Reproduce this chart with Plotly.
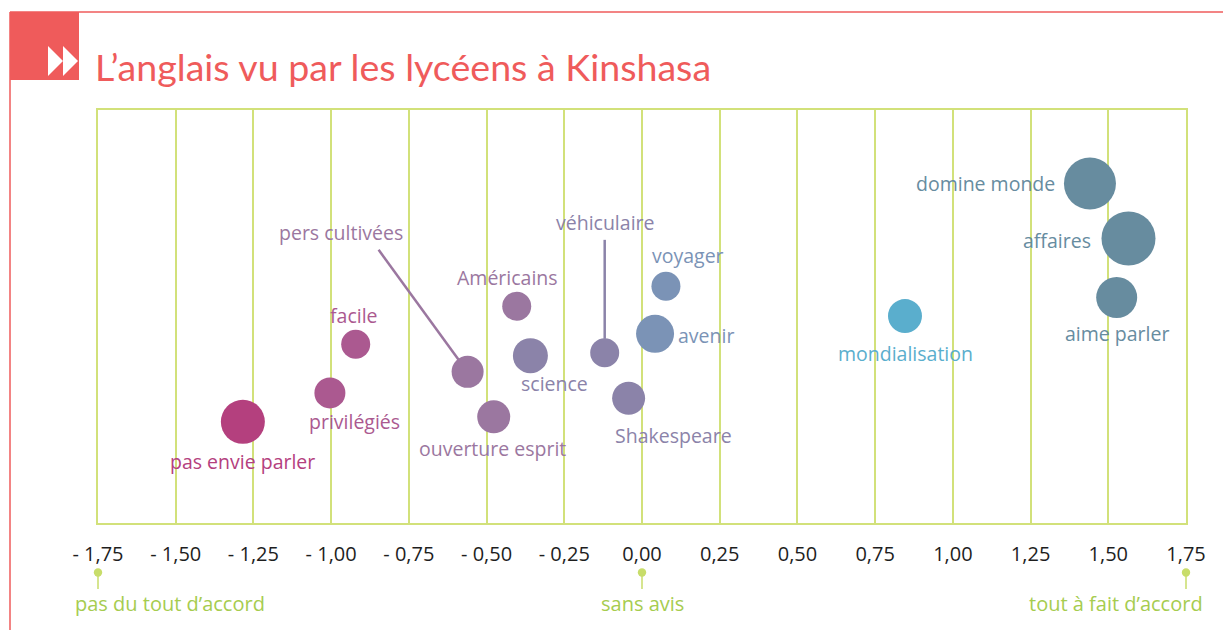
import plotly.graph_objects as go

# ---------------- data ----------------
labels = ["pas envie parler", "privilégiés", "facile", "pers cultivées", "ouverture esprit",
          "Américains", "science", "véhiculaire", "Shakespeare", "voyager", "avenir",
          "mondialisation", "domine monde", "affaires", "aime parler"]
x_score = [-1.284, -1.004, -0.921, -0.561, -0.477, -0.403, -0.359, -0.120, -0.043,
           0.077, 0.042, 0.846, 1.441, 1.565, 1.527]
y_pos = [24.5, 31.5, 43.3, 36.6, 25.7, 52.5, 40.5, 41.2, 30.2, 57.3, 45.8, 50.1, 82.2, 68.9, 54.6]
bubble_size = [44, 31, 29, 32, 33, 29, 35, 29, 33, 29, 38, 34, 52, 54, 41]

tick_vals = [-1.75, -1.5, -1.25, -1.0, -0.75, -0.5, -0.25, 0.0, 0.25, 0.5, 0.75, 1.0, 1.25, 1.5, 1.75]
tick_text = ["- 1,75", "- 1,50", "- 1,25", "- 1,00", "- 0,75", "- 0,50", "- 0,25", "0,00",
             "0,25", "0,50", "0,75", "1,00", "1,25", "1,50", "1,75"]

scale_labels = ["pas du tout d’accord", "sans avis", "tout à fait d’accord"]
scale_vals = [-1.75, 0.0, 1.75]
title_text = "L’anglais vu par les lycéens à Kinshasa"

# ---------------- styles ----------------
colors = ["#b4407e", "#ab5990", "#ab5990", "#9b77a0", "#9b77a0", "#9b77a0", "#8b83a9",
          "#8b83a9", "#8b83a9", "#7b93b6", "#7b93b6", "#5aaecd", "#678c9f", "#678c9f", "#678c9f"]
# label offsets in pixels (dx right, dy down) relative to bubble centre
label_off = [(0, 40), (25, 29), (-2, -29), (-127, -139), (-1, 32), (-9, -29), (24, 28),
             (0, -130), (45, 37), (22, -31), (51, 2), (1, 37), (-104, 0), (-71, 2), (0, 36)]
# leader lines: index -> (x0,y0_up,x1,y1_up) pixel offsets from bubble centre
leaders = {3: (-89, 122, -9, 12), 7: (0, 113, 0, 14)}

W, H = 1223, 630
L, R, T, B = 98, 1186, 110, 523
X_RANGE = [tick_vals[0], tick_vals[-1]]
RED = "#ef5b5b"
GREEN = "#d2e17a"
GREEN_TXT = "#a6cc4f"
FONT = "Open Sans"


def px(xp):
    return (xp - L) / (R - L)


def py(yp):
    return (B - yp) / (B - T)


def data_to_paper_x(v):
    return (v - X_RANGE[0]) / (X_RANGE[1] - X_RANGE[0])


fig = go.Figure()
fig.add_trace(go.Scatter(
    x=x_score, y=y_pos, mode="markers",
    marker=dict(size=bubble_size, color=colors, opacity=1, line=dict(width=0)),
    text=labels, hoverinfo="text", showlegend=False, cliponaxis=False,
))

annotations = []
for i, lab in enumerate(labels):
    dx, dy = label_off[i]
    annotations.append(dict(x=x_score[i], y=y_pos[i], xref="x", yref="y", text=lab,
                            showarrow=False, xshift=dx, yshift=-dy,
                            font=dict(family=FONT, size=19.5, color=colors[i]),
                            xanchor="center", yanchor="middle"))

shapes = []
for i, (x0, y0, x1, y1) in leaders.items():
    shapes.append(dict(type="line", xref="x", yref="y", xsizemode="pixel", ysizemode="pixel",
                       xanchor=x_score[i], yanchor=y_pos[i], x0=x0, y0=y0, x1=x1, y1=y1,
                       line=dict(color=colors[i], width=2.5)))

# scale markers under the axis
for v, lab in zip(scale_vals, scale_labels):
    xp = data_to_paper_x(v)
    shapes.append(dict(type="line", xref="paper", yref="paper", x0=xp, x1=xp,
                       y0=py(572), y1=py(589), line=dict(color="#c8dd6a", width=1.5)))
    shapes.append(dict(type="circle", xref="paper", yref="paper", xsizemode="pixel",
                       ysizemode="pixel", xanchor=xp, yanchor=py(572.5),
                       x0=-4.2, x1=4.2, y0=-4.2, y1=4.2,
                       fillcolor="#c8dd6a", line=dict(width=0)))
    if v < 0:
        xa, xs = "left", -25
    elif v > 0:
        xa, xs = "right", 19
    else:
        xa, xs = "center", 0
    annotations.append(dict(x=v, y=py(603), xref="x", yref="paper", text=lab, showarrow=False,
                            xanchor=xa, yanchor="middle", xshift=xs,
                            font=dict(family=FONT, size=20, color=GREEN_TXT)))

# red frame and icon
shapes.append(dict(type="line", xref="paper", yref="paper", x0=px(10), x1=px(1223),
                   y0=py(12), y1=py(12), line=dict(color=RED, width=1.5)))
shapes.append(dict(type="line", xref="paper", yref="paper", x0=px(10), x1=px(10),
                   y0=py(12), y1=py(630), line=dict(color=RED, width=1.5)))
shapes.append(dict(type="rect", xref="paper", yref="paper", x0=px(10), x1=px(79),
                   y0=py(12), y1=py(80), fillcolor=RED, line=dict(width=0)))
for xs in (48, 63):
    path = "M {:.5f} {:.5f} L {:.5f} {:.5f} L {:.5f} {:.5f} Z".format(
        px(xs), py(46), px(xs), py(76), px(xs + 15), py(61))
    shapes.append(dict(type="path", xref="paper", yref="paper", path=path,
                       fillcolor="white", line=dict(width=0)))

fig.update_layout(
    width=W, height=H, autosize=False,
    margin=dict(l=L, r=W - R, t=T, b=H - B, pad=0),
    paper_bgcolor="white", plot_bgcolor="white",
    title=dict(text=title_text, x=95 / W, xanchor="left", y=1 - 68 / H, yanchor="middle",
               xref="container", yref="container",
               font=dict(family="Lato", size=37.6, color=RED)),
    xaxis=dict(range=X_RANGE, tickvals=tick_vals, ticktext=tick_text,
               showgrid=True, gridcolor=GREEN, gridwidth=1.5, zeroline=False,
               showline=True, linecolor=GREEN, linewidth=1.5, mirror=True,
               ticks="outside", ticklen=12, tickcolor="rgba(0,0,0,0)",
               tickfont=dict(family=FONT, size=20, color="#1e1e1e"), fixedrange=True),
    yaxis=dict(range=[0, 100], showgrid=False, zeroline=False, showticklabels=False,
               showline=True, linecolor=GREEN, linewidth=1.5, mirror=True, fixedrange=True),
    annotations=annotations, shapes=shapes,
)

fig.write_html("out.html", config={"displayModeBar": False},
               post_script="document.body.style.margin='0';document.body.style.overflow='hidden';")
